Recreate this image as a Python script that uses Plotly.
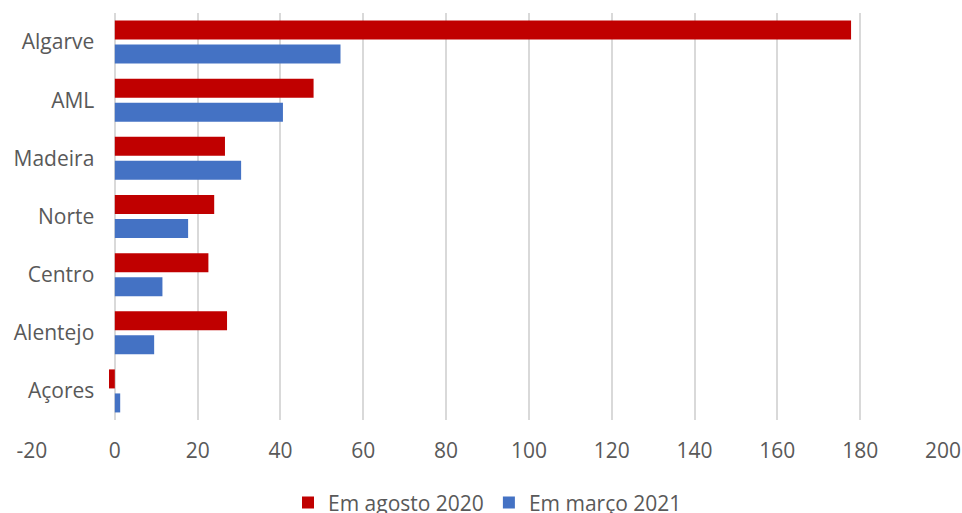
import plotly.graph_objects as go

regions = ["Algarve", "AML", "Madeira", "Norte", "Centro", "Alentejo", "Açores"]
agosto_2020 = [177.8, 48.0, 26.6, 24.0, 22.6, 27.1, -1.4]
marco_2021 = [54.5, 40.6, 30.5, 17.7, 11.5, 9.5, 1.3]
x_ticks = list(range(-20, 201, 20))

text_color = "#595959"
grid_color = "#D9D9D9"
font_family = "Open Sans, Liberation Sans, sans-serif"

fig = go.Figure()
fig.add_trace(go.Bar(
    y=regions, x=agosto_2020, orientation="h", name="Em agosto 2020",
    marker=dict(color="#C00000", line=dict(width=0)),
))
fig.add_trace(go.Bar(
    y=regions, x=marco_2021, orientation="h", name="Em março 2021",
    marker=dict(color="#4472C4", line=dict(width=0)),
))

l_margin, r_margin = 32, 19
plot_w = 962 - l_margin - r_margin
zero_pos = (115.3 - l_margin) / plot_w

fig.update_layout(
    width=962, height=513,
    margin=dict(l=l_margin, r=r_margin, t=13, b=93, autoexpand=False),
    paper_bgcolor="white", plot_bgcolor="white",
    barmode="group", bargap=0.174, bargroupgap=0.208,
    font=dict(family=font_family, size=21, color=text_color),
    showlegend=True,
    legend=dict(
        orientation="h", x=0.5, xanchor="center",
        yref="container", y=0.02, yanchor="middle",
        font=dict(size=21, color=text_color), traceorder="normal",
        itemwidth=30,
    ),
    xaxis=dict(
        range=[-20, 200], tickvals=x_ticks, ticktext=[str(v) for v in x_ticks],
        showgrid=True, gridcolor=grid_color, gridwidth=1.5,
        zeroline=True, zerolinecolor=grid_color, zerolinewidth=1.5,
        showline=False, ticks="", ticklabelstandoff=16, automargin=False,
        tickfont=dict(size=21, color=text_color),
    ),
    yaxis=dict(
        type="category", categoryorder="array", categoryarray=regions,
        range=[6.5, -0.5], showgrid=False, zeroline=False, showline=False,
        ticks="", anchor="free", position=zero_pos, ticklabelstandoff=21,
        automargin=False,
        tickfont=dict(size=21, color=text_color),
    ),
)

fig.write_html("out.html")
